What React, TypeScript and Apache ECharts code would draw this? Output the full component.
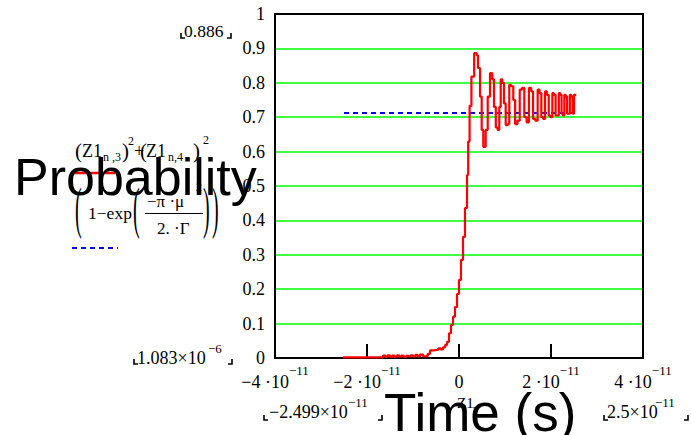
import React, { useEffect, useRef } from "react";
import * as echarts from "echarts";

// Time in units of 1e-11 s
const timeE11 = [
  -2.52, -2.2, -1.9, -1.65, -1.6, -1.55, -1.5, -1.45, -1.4, -1.35, -1.3, -1.25, -1.2, -1.15, -1.1,
  -1.05, -1.0, -0.95, -0.9, -0.85, -0.78, -0.72, -0.68, -0.63, -0.55, -0.45, -0.4, -0.35, -0.3,
  -0.26, -0.217, -0.174, -0.13, -0.087, -0.043, 0.0, 0.043, 0.087, 0.13, 0.174, 0.2, 0.23, 0.27,
  0.33, 0.385, 0.413, 0.457, 0.493, 0.528, 0.58, 0.624, 0.674, 0.724, 0.761, 0.8, 0.84, 0.876,
  0.907, 0.94, 0.978, 1.015, 1.06, 1.093, 1.13, 1.18, 1.22, 1.27, 1.32, 1.37, 1.42, 1.47, 1.52,
  1.57, 1.61, 1.66, 1.71, 1.75, 1.79, 1.83, 1.87, 1.91, 1.95, 1.99, 2.03, 2.06, 2.1, 2.13, 2.17,
  2.2, 2.23, 2.26, 2.29, 2.32, 2.35, 2.38, 2.41, 2.44, 2.47, 2.5, 2.55,
];
const probability = [
  0.002, 0.002, 0.002, 0.007, 0.003, 0.008, 0.003, 0.007, 0.003, 0.008, 0.004, 0.007, 0.003, 0.006,
  0.004, 0.008, 0.004, 0.009, 0.004, 0.01, 0.005, 0.006, 0.012, 0.022, 0.024, 0.028, 0.025, 0.031,
  0.038, 0.047, 0.072, 0.096, 0.12, 0.148, 0.186, 0.227, 0.285, 0.352, 0.436, 0.532, 0.629, 0.733,
  0.818, 0.886, 0.88, 0.843, 0.76, 0.663, 0.614, 0.663, 0.76, 0.828, 0.81, 0.73, 0.67, 0.663, 0.73,
  0.81, 0.8, 0.74, 0.677, 0.68, 0.794, 0.79, 0.75, 0.68, 0.69, 0.78, 0.785, 0.7, 0.685, 0.785,
  0.775, 0.695, 0.69, 0.78, 0.77, 0.7, 0.695, 0.775, 0.765, 0.705, 0.7, 0.77, 0.765, 0.705, 0.705,
  0.77, 0.765, 0.71, 0.705, 0.765, 0.76, 0.71, 0.71, 0.765, 0.76, 0.71, 0.765, 0.765,
];
// Limit (blue dashed) trace
const limitTime = [-2.5, 2.55];
const limitValue = [0.712, 0.712];

const xTicks = [-4, -2, 0, 2, 4];

const SERIF = "Liberation Serif";
const SANS = "Liberation Sans";

function txt(x: number, y: number, text: string, size: number, extra: any = {}) {
  const { family, ...rest } = extra;
  return {
    type: "text",
    x,
    y,
    z: 100,
    ...rest,
    style: {
      text,
      fontSize: size,
      fontFamily: family || SERIF,
      fill: "#000",
      align: "left",
      verticalAlign: "middle",
    },
  };
}
function bracketPair(xl: number, xr: number, yb: number) {
  const ls = { stroke: "#000", lineWidth: 1.6, fill: "none" };
  return [
    { type: "polyline", z: 100, shape: { points: [[xl, yb - 5], [xl, yb], [xl + 4, yb]] }, style: ls },
    { type: "polyline", z: 100, shape: { points: [[xr - 4, yb], [xr, yb], [xr, yb - 5]] }, style: ls },
  ];
}
function hline(x1: number, x2: number, y: number, color: string, w: number, dash?: number[]) {
  return {
    type: "line",
    z: 100,
    shape: { x1, y1: y, x2, y2: y },
    style: { stroke: color, lineWidth: w, lineDash: dash },
  };
}

export default function App() {
  const ref = useRef<HTMLDivElement>(null);
  useEffect(() => {
    if (!ref.current) return;
    const chart = echarts.init(ref.current, undefined, { renderer: "svg" });
    const axisLine = { show: true, onZero: false, lineStyle: { color: "#000", width: 2 } };
    const graphic: any[] = [
      // axis range annotations
      txt(184, 31, "0.886", 17.5),
      ...bracketPair(181, 231, 38),
      txt(137, 358, "1.083×10", 18),
      txt(208, 348, "−6", 13),
      ...bracketPair(134, 232, 364),
      txt(269, 412, "−2.499×10", 18),
      txt(348, 402, "−11", 13),
      ...bracketPair(264, 382, 420),
      txt(607, 412, "2.5×10", 18),
      txt(655, 402, "−11", 13),
      ...bracketPair(604, 688, 420),
      txt(457, 403, "Z1", 15),
      txt(473, 408, "n", 10),
      // legend expression
      txt(75, 151, "(", 21),
      txt(82, 151, "Z1", 18),
      txt(103, 157, "n ,3", 12),
      txt(122, 151, ")", 21),
      txt(128, 141, "2", 12),
      txt(134, 151, "+", 18),
      txt(140, 151, "(", 21),
      txt(146, 151, "Z1", 18),
      txt(168, 157, "n,4", 12),
      txt(193, 151, ")", 21),
      txt(203, 140, "2", 12),
      hline(73, 115, 173, "#ff0000", 2.5),
      txt(75, 208, "(", 20, { scaleY: 2.8 }),
      txt(88, 213, "1−exp", 17.5),
      txt(133, 208, "(", 20, { scaleY: 2.8 }),
      txt(147, 201, "−π ·μ", 17),
      hline(145, 203, 213.5, "#000", 1),
      txt(157, 228, "2. ·Γ", 17),
      txt(196, 187, "2", 12),
      txt(203, 208, ")", 20, { scaleY: 2.8 }),
      txt(212, 208, ")", 20, { scaleY: 2.8 }),
      hline(72, 118, 248, "#0000ff", 2, [5, 4]),
      // big axis titles
      txt(14, 177, "Probability", 52, { family: SANS }),
      txt(384, 412, "Time (s)", 53, { family: SANS }),
    ];

    chart.setOption({
      animation: false,
      grid: { left: 275, top: 14, width: 368, height: 344, containLabel: false },
      xAxis: [
        {
          type: "value",
          min: -4,
          max: 4,
          interval: 2,
          position: "bottom",
          axisLine,
          axisTick: { show: true, inside: true, length: 14, lineStyle: { color: "#000", width: 2 } },
          splitLine: { show: false },
          axisLabel: {
            showMinLabel: true,
            showMaxLabel: true,
            hideOverlap: false,
            margin: 6,
            customValues: xTicks,
            formatter: (v: number) =>
              v === 0 ? "{b|0}" : `{b|${v < 0 ? "−" : ""}${Math.abs(v)} ·10}{s|−11}`,
            rich: {
              b: { fontFamily: SERIF, fontSize: 18, lineHeight: 27, verticalAlign: "bottom", color: "#000" },
              s: { fontFamily: SERIF, fontSize: 13, verticalAlign: "top", color: "#000" },
            },
          },
        },
        {
          type: "value",
          min: -4,
          max: 4,
          interval: 2,
          position: "top",
          axisLine,
          axisTick: {
            show: true,
            inside: true,
            length: 14,
            customValues: [4],
            lineStyle: { color: "#000", width: 2 },
          },
          axisLabel: { show: false },
          splitLine: { show: false },
        },
      ],
      yAxis: [
        {
          type: "value",
          min: 0,
          max: 1,
          interval: 0.1,
          axisLine,
          axisTick: { show: false },
          axisLabel: {
            margin: 10,
            fontFamily: SERIF,
            fontSize: 18,
            color: "#000",
            formatter: (v: number) => String(+v.toFixed(1)),
          },
          splitLine: {
            show: true,
            showMinLine: false,
            showMaxLine: false,
            lineStyle: { color: "#00ff00", width: 1.5 },
          },
        },
        {
          type: "value",
          min: 0,
          max: 1,
          position: "right",
          axisLine,
          axisTick: { show: false },
          axisLabel: { show: false },
          splitLine: { show: false },
        },
      ],
      series: [
        {
          type: "line",
          step: "end",
          xAxisIndex: 0,
          yAxisIndex: 0,
          showSymbol: false,
          data: timeE11.map((t, i) => [t, probability[i]]),
          lineStyle: { color: "#ff0000", width: 2.2 },
          z: 5,
        },
        {
          type: "line",
          xAxisIndex: 0,
          yAxisIndex: 0,
          showSymbol: false,
          data: limitTime.map((t, i) => [t, limitValue[i]]),
          lineStyle: { color: "#0000ff", width: 2, type: [5, 4] },
          z: 4,
        },
      ],
      graphic,
    });
    return () => chart.dispose();
  }, []);
  return (
    <div
      ref={ref}
      style={{ position: "absolute", left: 0, top: 0, width: 691, height: 435, background: "#fff" }}
    />
  );
}
